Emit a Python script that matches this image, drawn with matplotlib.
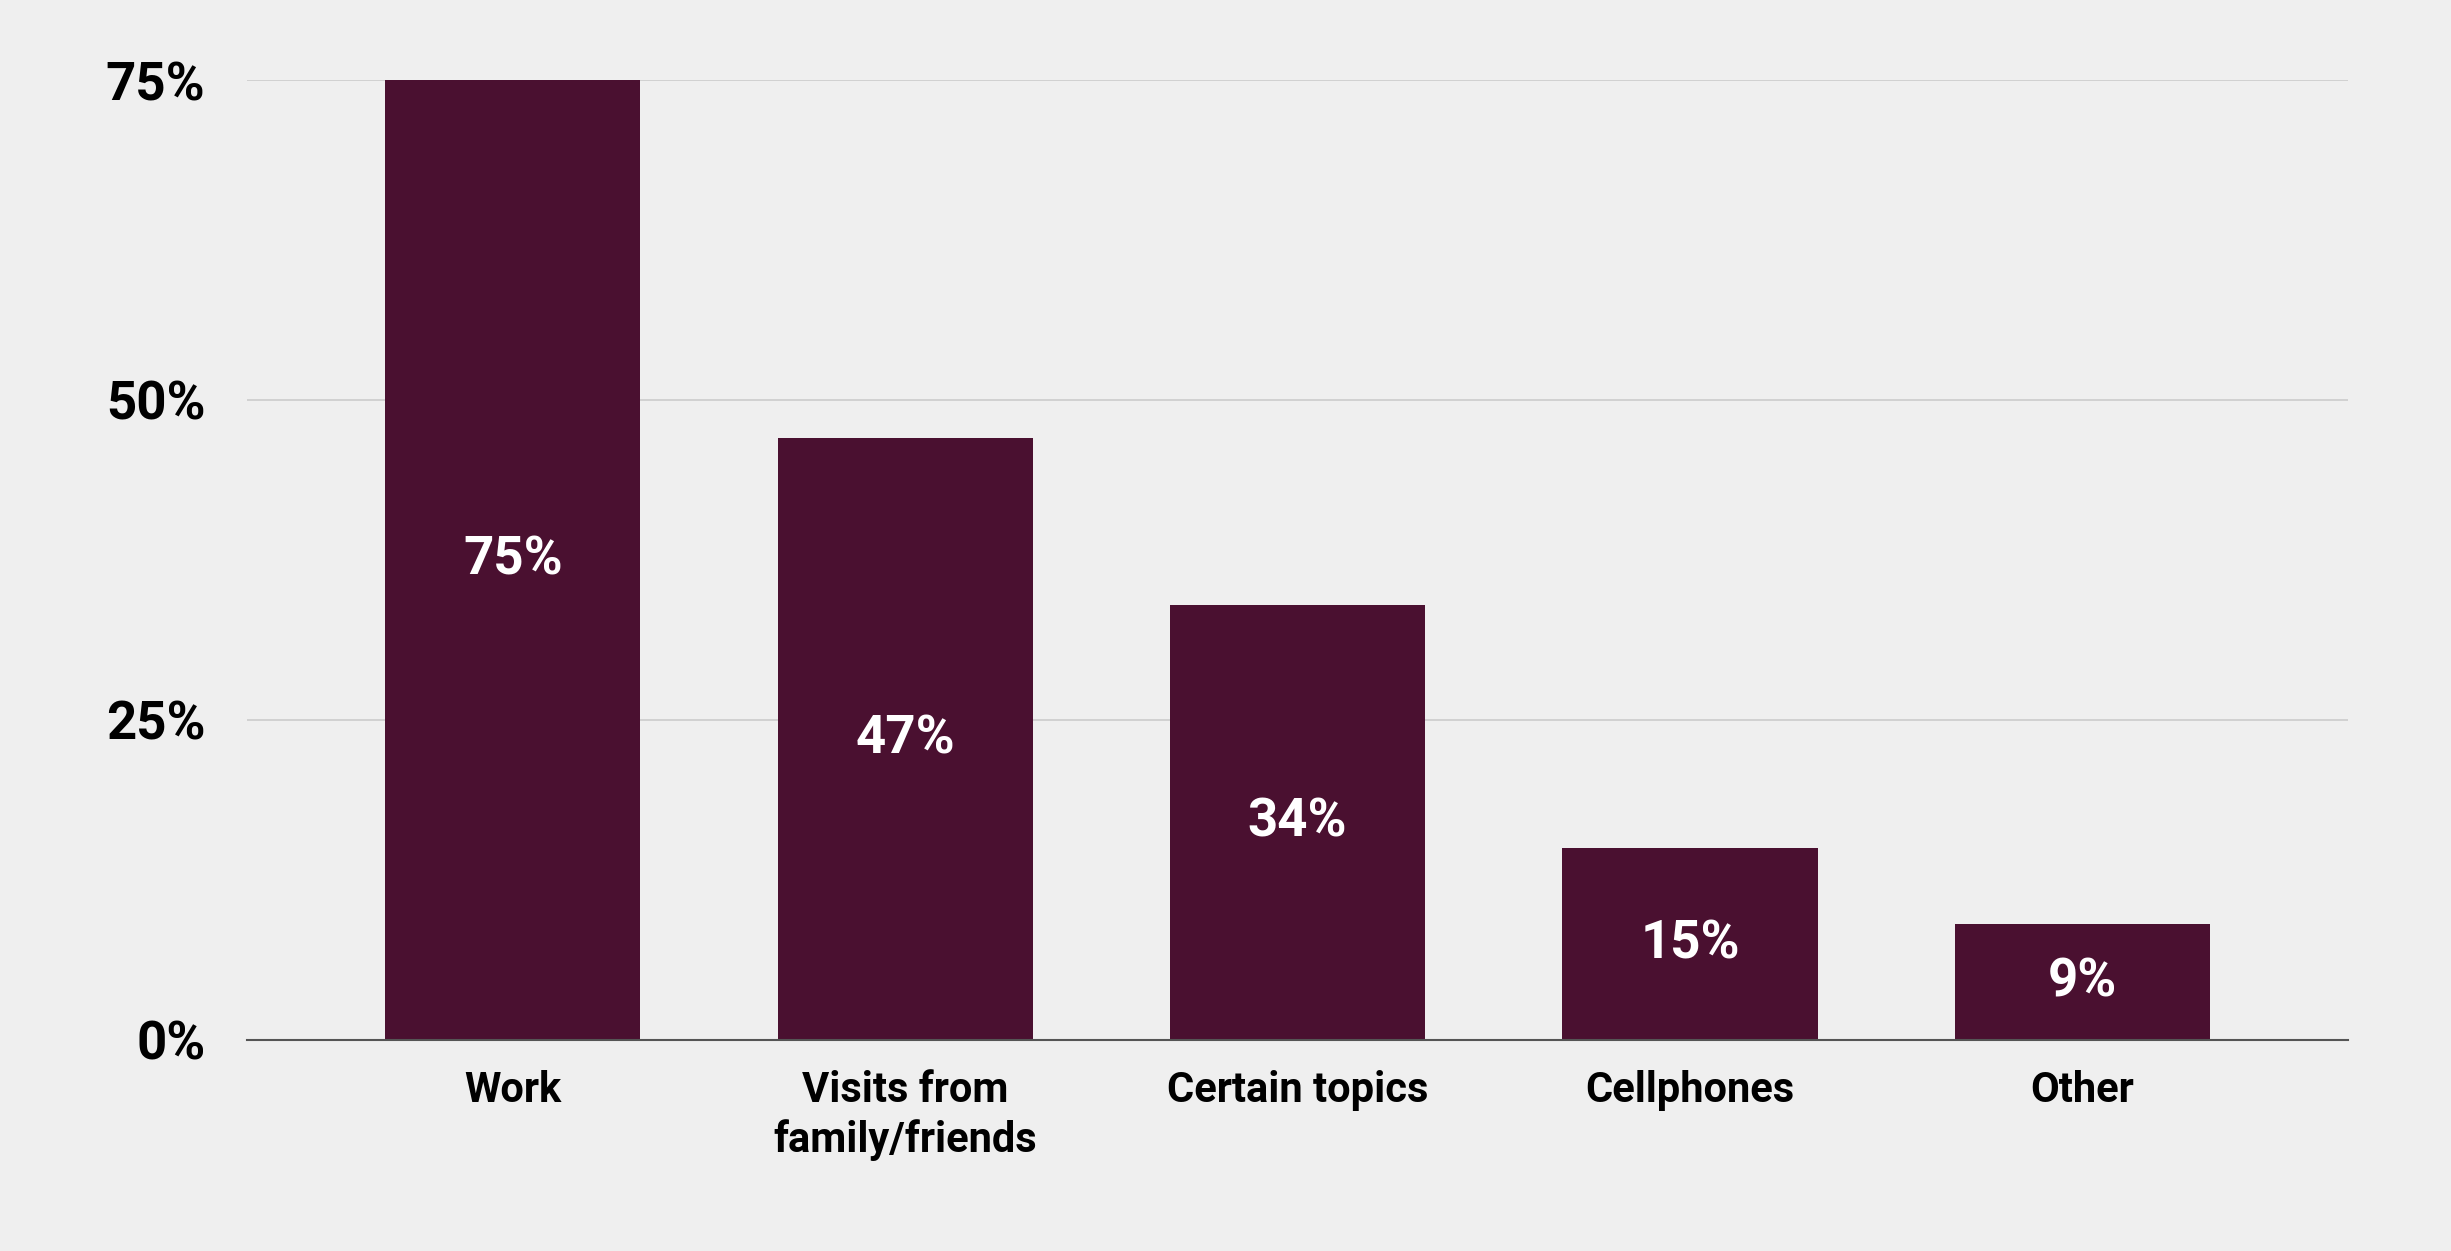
import matplotlib.pyplot as plt

categories = ["Work", "Visits from\nfamily/friends", "Certain topics", "Cellphones", "Other"]
values = [75, 47, 34, 15, 9]
yticks = [0, 25, 50, 75]

bg = "#efefef"
plt.rcParams['font.family'] = ['Roboto', 'DejaVu Sans']
fig = plt.figure(figsize=(24.51, 12.51), dpi=100, facecolor=bg)
ax = fig.add_axes([0.1008, 0.169, 0.8572, 0.767])
ax.set_facecolor(bg)

x = range(len(categories))
bars = ax.bar(x, values, width=0.65, color="#4a1030", zorder=3)
for xi, v in zip(x, values):
    ax.text(xi, v / 2, f"{v}%", ha="center", va="center", color="white",
            fontsize=38, fontweight="bold", zorder=4)

ax.set_xlim(-0.677, 4.677)
ax.set_ylim(0, 75)
ax.set_yticks(yticks)
ax.set_yticklabels([f"{t}%" for t in yticks], fontsize=38, fontweight="bold")
ax.set_xticks(list(x))
ax.set_xticklabels(categories, fontsize=30, fontweight="bold", linespacing=1.25)
ax.tick_params(length=0)
ax.tick_params(axis="y", pad=30)
ax.tick_params(axis="x", pad=22)
ax.grid(axis="y", color="#cccccc", linewidth=1.2, zorder=0)
for s in ["top", "right", "left"]:
    ax.spines[s].set_visible(False)
ax.spines["bottom"].set_color("#555555")
ax.spines["bottom"].set_linewidth(1.5)
ax.spines["bottom"].set_zorder(5)

fig.savefig("out.png", dpi=100, facecolor=bg)
